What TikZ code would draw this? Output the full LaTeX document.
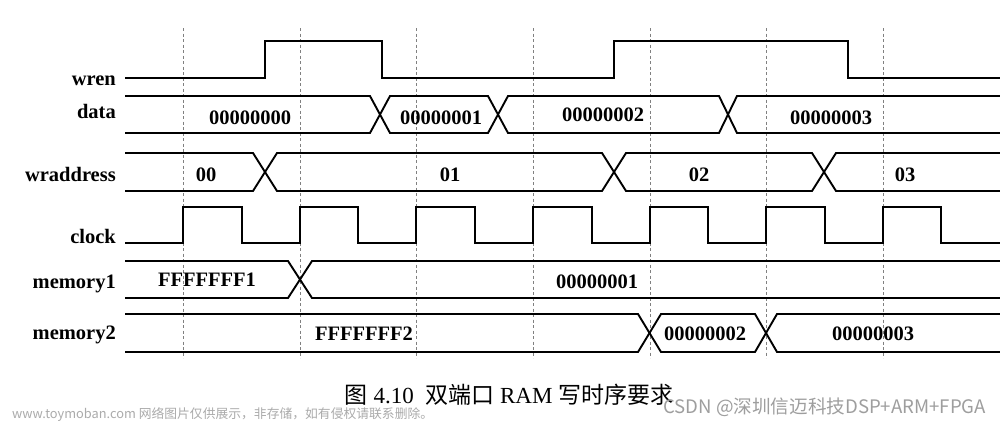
\documentclass[tikz,border=0pt]{standalone}
\usepackage{fontspec}
\setmainfont{Liberation Serif}
\newfontfamily\cjk{Noto Sans CJK SC}
\newfontfamily\wmsans{Liberation Sans}
\begin{document}
\begin{tikzpicture}[x=1pt,y=-1pt,
  sig/.style={line width=1.9pt, line join=miter, line cap=butt},
  gridline/.style={gray, line width=0.8pt, dash pattern=on 3pt off 2.5pt},
  lab/.style={font=\fontsize{20.5}{22}\selectfont\bfseries, anchor=base east, inner sep=0pt},
  val/.style={font=\fontsize{20.5}{22}\selectfont\bfseries, anchor=base, inner sep=0pt}]
\useasboundingbox (0,0) rectangle (1000,423);
\fill[white] (0,0) rectangle (1000,423);
% dashed clock-edge lines
\foreach \x in {183,300,416,533,650,766,883}
  \draw[gridline] (\x,28) -- (\x,358);
% signal names
\node[lab] (nwren) at (116,85) {wren};
\node[lab] (ndata) at (116,118) {data};
\node[lab] (nwadr) at (116,181) {wraddress};
\node[lab] (nclk) at (116,243) {clock};
\node[lab] (nmem1) at (116,288) {memory1};
\node[lab] (nmem2) at (116,339) {memory2};
% wren
\draw[sig] (125,78) -- (265,78) -- (265,41) -- (382,41) -- (382,78) -- (614,78) -- (614,41) -- (848,41) -- (848,78) -- (1000,78);
% data
\draw[sig] (125,96) -- (370,96) -- (390,133) -- (488,133) -- (508,96) -- (719,96) -- (737,133) -- (1000,133);
\draw[sig] (125,133) -- (370,133) -- (390,96) -- (488,96) -- (508,133) -- (719,133) -- (737,96) -- (1000,96);
\node[val] (d0) at (250,124) {00000000};
\node[val] (d1) at (441,124) {00000001};
\node[val] (d2) at (603,121) {00000002};
\node[val] (d3) at (831,124) {00000003};
% wraddress
\draw[sig] (125,153) -- (253,153) -- (277,191) -- (602,191) -- (626,153) -- (812,153) -- (836,191) -- (1000,191);
\draw[sig] (125,191) -- (253,191) -- (277,153) -- (602,153) -- (626,191) -- (812,191) -- (836,153) -- (1000,153);
\node[val] (a0) at (206,181) {00};
\node[val] (a1) at (450,181) {01};
\node[val] (a2) at (699,181) {02};
\node[val] (a3) at (905,181) {03};
% clock
\draw[sig] (125,243) -- (183,243) -- (183,207) -- (242,207) -- (242,243)
  -- (300,243) -- (300,207) -- (358,207) -- (358,243)
  -- (416,243) -- (416,207) -- (475,207) -- (475,243)
  -- (533,243) -- (533,207) -- (592,207) -- (592,243)
  -- (650,243) -- (650,207) -- (708,207) -- (708,243)
  -- (766,243) -- (766,207) -- (825,207) -- (825,243)
  -- (883,243) -- (883,207) -- (941,207) -- (941,243) -- (1000,243);
% memory1
\draw[sig] (125,261) -- (288,261) -- (312,298) -- (1000,298);
\draw[sig] (125,298) -- (288,298) -- (312,261) -- (1000,261);
\node[val] (m1a) at (207,286) {FFFFFFF1};
\node[val] (m1b) at (597,288) {00000001};
% memory2
\draw[sig] (125,314) -- (638,314) -- (661,352) -- (755,352) -- (777,314) -- (1000,314);
\draw[sig] (125,352) -- (638,352) -- (661,314) -- (755,314) -- (777,352) -- (1000,352);
\node[val] (m2a) at (364,340) {FFFFFFF2};
\node[val] (m2b) at (705,340) {00000002};
\node[val] (m2c) at (873,340) {00000003};
% caption
\node[anchor=base, inner sep=0pt, font=\fontsize{23}{25}\selectfont] (cap) at (509,403)
  {{\cjk 图} 4.10\ \ {\cjk 双端口} RAM {\cjk 写时序要求}};
% watermarks
\node[anchor=base west, inner sep=0pt, text=black!38, font=\fontsize{18.6}{20}\selectfont\cjk] (csdn) at (663,413)
  {CSDN @深圳信迈科技DSP+ARM+FPGA};
\node[anchor=base west, inner sep=0pt, text=black!33, font=\fontsize{12.8}{14}\selectfont\cjk] (toy) at (12,418)
  {www.toymoban.com 网络图片仅供展示，非存储，如有侵权请联系删除。};
\end{tikzpicture}
\end{document}
